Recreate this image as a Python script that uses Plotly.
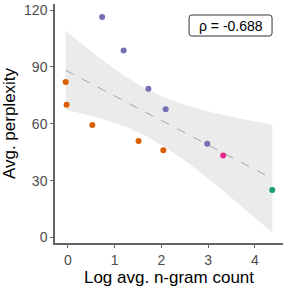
import numpy as np
import plotly.graph_objects as go

# Data
groups = ["purple", "purple", "purple", "purple", "purple",
          "orange", "orange", "orange", "orange", "orange",
          "pink", "green"]
log_count = [0.73, 1.19, 1.72, 2.09, 2.98,
             -0.05, -0.03, 0.52, 1.51, 2.04,
             3.32, 4.37]
perplexity = [116.4, 98.6, 78.5, 67.7, 49.4,
              82.1, 70.0, 59.3, 50.9, 46.0,
              43.3, 25.1]
colors = {"purple": "#7570B3", "orange": "#D95F02", "pink": "#E7298A", "green": "#1B9E77"}
rho_label = "ρ = -0.688"
x_ticks = [0, 1, 2, 3, 4]
y_ticks = [0, 30, 60, 90, 120]

x = np.array(log_count)
y = np.array(perplexity)
n = len(x)
slope, intercept = np.polyfit(x, y, 1)
xs = np.linspace(x.min(), x.max(), 80)
ys = intercept + slope * xs
resid = y - (intercept + slope * x)
s = np.sqrt(np.sum(resid ** 2) / (n - 2))
sxx = np.sum((x - x.mean()) ** 2)
se = s * np.sqrt(1 / n + (xs - x.mean()) ** 2 / sxx)
tq = 2.228  # t(0.975, df=10)
upper = ys + tq * se
lower = ys - tq * se

fig = go.Figure()
fig.add_trace(go.Scatter(x=np.concatenate([xs, xs[::-1]]), y=np.concatenate([upper, lower[::-1]]),
                         fill="toself", fillcolor="#EBEBEB", line=dict(width=0),
                         mode="lines", hoverinfo="skip", showlegend=False))
fig.add_trace(go.Scatter(x=xs, y=ys, mode="lines",
                         line=dict(color="#A6A6A6", width=1, dash="dash"), showlegend=False))
fig.add_trace(go.Scatter(x=log_count, y=perplexity, mode="markers",
                         marker=dict(color=[colors[g] for g in groups], size=6),
                         showlegend=False))

# rounded label box
x0, x1, y0, y1, rx, ry = 0.588, 0.952, 0.866, 0.954, 0.012, 0.012
path = (f"M {x0+rx},{y0} L {x1-rx},{y0} Q {x1},{y0} {x1},{y0+ry} L {x1},{y1-ry} "
        f"Q {x1},{y1} {x1-rx},{y1} L {x0+rx},{y1} Q {x0},{y1} {x0},{y1-ry} "
        f"L {x0},{y0+ry} Q {x0},{y0} {x0+rx},{y0} Z")
fig.add_shape(type="path", path=path, xref="paper", yref="paper",
              line=dict(color="#333333", width=1), fillcolor="white")
fig.add_annotation(x=(x0 + x1) / 2, y=(y0 + y1) / 2, xref="paper", yref="paper",
                   text=rho_label, showarrow=False,
                   font=dict(size=14, color="black"), xanchor="center", yanchor="middle")

axis_common = dict(showgrid=False, zeroline=False, showline=True, linecolor="#666666", linewidth=1.5,
                   ticks="outside", ticklen=3, tickcolor="#666666", tickwidth=1,
                   tickfont=dict(size=14, color="#4D4D4D"), automargin=False)
fig.update_layout(
    width=287, height=287,
    margin=dict(l=55, r=4, t=4, b=44),
    paper_bgcolor="white", plot_bgcolor="white",
    font=dict(family="Liberation Sans, Arial, sans-serif"),
    xaxis=dict(range=[-0.278, 4.6], tickvals=x_ticks, ticktext=[str(v) for v in x_ticks],
               title=dict(text="Log avg. n-gram count", font=dict(size=17, color="black"), standoff=4),
               **axis_common),
    yaxis=dict(range=[-2.9, 123.2], tickvals=y_ticks, ticktext=[str(v) for v in y_ticks],
               title=dict(text="Avg. perplexity", font=dict(size=17, color="black"), standoff=4),
               **axis_common),
)
fig.write_html("out.html", config={"displayModeBar": False},
               post_script="document.body.style.margin='0';")
